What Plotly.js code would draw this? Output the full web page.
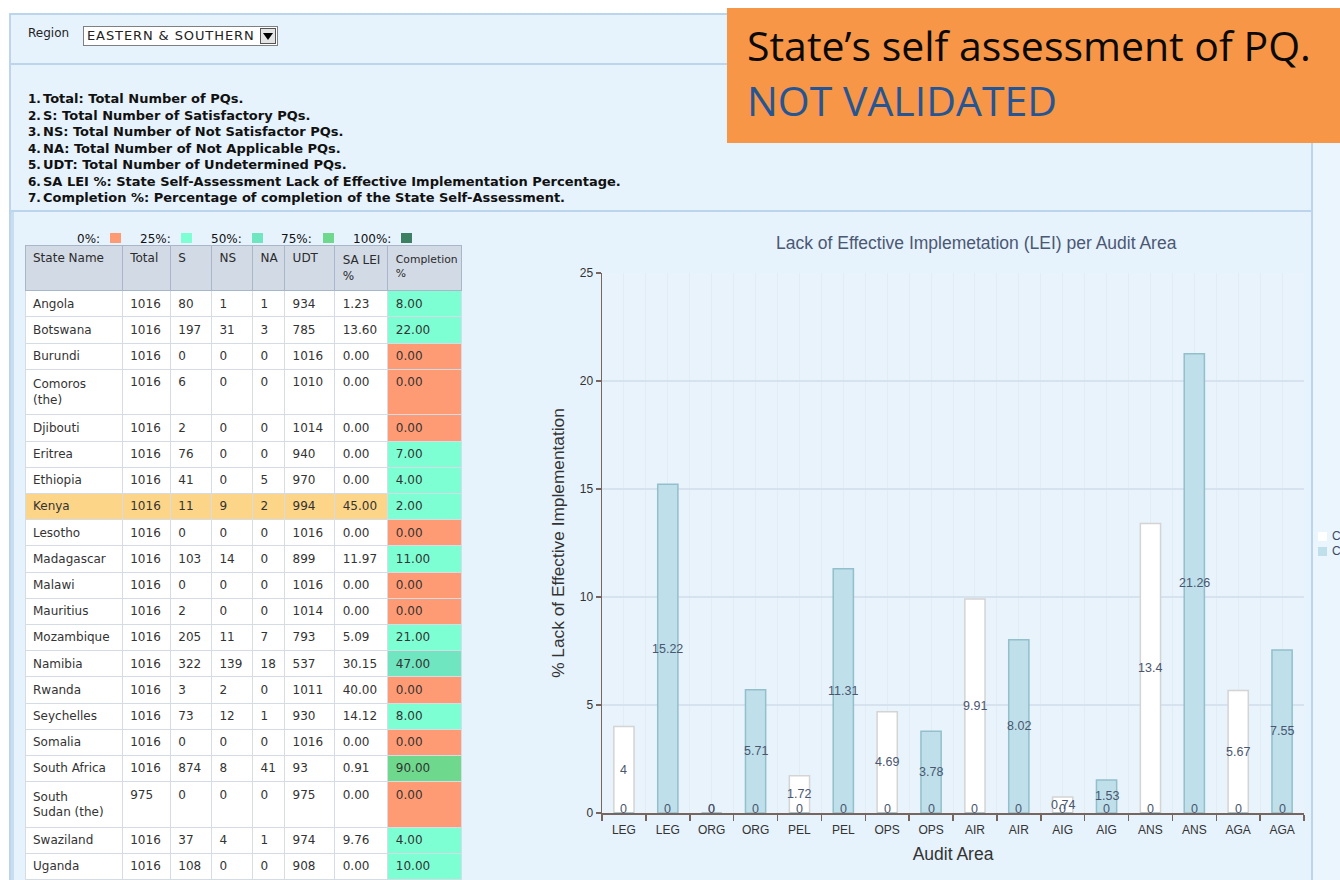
<!DOCTYPE html>
<html><head><meta charset="utf-8">
<script src="https://cdn.plot.ly/plotly-3.0.1.min.js"></script>
<style>
html,body{margin:0;padding:0;width:1340px;height:880px;overflow:hidden;background:#ffffff;font-family:"DejaVu Sans",sans-serif;color:#222;}
.abs{position:absolute;}
#bg{left:9px;top:13px;width:1331px;height:867px;background:#e6f2fc;border-left:2px solid #bcd5ec;border-top:2px solid #bcd5ec;box-sizing:border-box;}
.hl{position:absolute;height:2px;background:#bcd5ec;}
.vl{position:absolute;width:2px;background:#bcd5ec;}
#region{left:28px;top:26px;font-size:12px;}
#sel{left:83px;top:26px;width:195px;height:20px;background:#fff;border:1px solid #808080;box-sizing:border-box;font-size:13px;letter-spacing:0.9px;line-height:18px;padding-left:3px;white-space:nowrap;overflow:hidden;}
#selbtn{position:absolute;right:1px;top:1px;width:16px;height:16px;background:#e4e4e4;border:1px solid #555;box-sizing:border-box;}
#selbtn:after{content:"";position:absolute;left:2px;top:4px;border-left:5px solid transparent;border-right:5px solid transparent;border-top:7px solid #000;}
#defs{left:28px;top:91px;font-size:13px;font-weight:bold;line-height:16.5px;color:#111;white-space:nowrap;}
#defs div span{display:inline-block;width:15px;font-size:12px;}
#leg{left:0;top:232px;font-size:12px;color:#111;}
.sw{position:absolute;width:11px;height:10px;top:1px;}
#orange{left:727px;top:8px;width:613px;height:135px;background:#f79646;}
#o1{left:747px;top:17px;font-family:"Open Sans",sans-serif;font-size:41px;color:#0a0a0a;white-space:nowrap;}
#o2{left:747px;top:72px;font-family:"Open Sans",sans-serif;font-size:41px;color:#265594;white-space:nowrap;}
#rightstrip{left:1313px;top:143px;width:27px;height:737px;background:#eaf5fe;}
#tbl{left:25px;top:245px;width:437px;height:636px;}
#chart{left:540px;top:215px;width:860px;height:665px;}
#clegend{left:1318px;top:529px;font-family:"Liberation Sans",sans-serif;font-size:12px;color:#3d4a60;}
#clegend div{position:relative;height:15px;line-height:15px;padding-left:14px;white-space:nowrap;}
#clegend div i{position:absolute;left:0;top:3px;width:9px;height:9px;}
</style></head>
<body>
<div id="bg" class="abs"></div>
<div class="hl" style="left:11px;top:63px;width:1301px;"></div>
<div class="hl" style="left:11px;top:210px;width:1301px;"></div>
<div class="vl" style="left:11px;top:212px;height:668px;width:3px;background:#c8ddf1;"></div>
<div id="rightstrip" class="abs"></div>
<div class="vl" style="left:1311px;top:143px;height:737px;"></div>

<div id="region" class="abs">Region</div>
<div id="sel" class="abs">EASTERN &amp; SOUTHERN<div id="selbtn"></div></div>

<div id="defs" class="abs"></div>
<div id="leg" class="abs" style="width:470px;height:16px;"></div>

<div id="orange" class="abs"></div>
<div id="o1" class="abs">State’s self assessment of PQ.</div>
<div id="o2" class="abs">NOT VALIDATED</div>

<div id="tbl" class="abs"></div>
<div id="chart" class="abs"></div>
<div id="clegend" class="abs"></div>

<script>
// ---------- definitions text ----------
const definitions = [
  'Total: Total Number of PQs.',
  'S: Total Number of Satisfactory PQs.',
  'NS: Total Number of Not Satisfactor PQs.',
  'NA: Total Number of Not Applicable PQs.',
  'UDT: Total Number of Undetermined PQs.',
  'SA LEI %: State Self-Assessment Lack of Effective Implementation Percentage.',
  'Completion %: Percentage of completion of the State Self-Assessment.'
];

// ---------- table data ----------
const stateNames = ['Angola','Botswana','Burundi','Comoros<br>(the)','Djibouti','Eritrea','Ethiopia','Kenya','Lesotho','Madagascar','Malawi','Mauritius','Mozambique','Namibia','Rwanda','Seychelles','Somalia','South Africa','South<br>Sudan (the)','Swaziland','Uganda'];
const totalPQ   = [1016,1016,1016,1016,1016,1016,1016,1016,1016,1016,1016,1016,1016,1016,1016,1016,1016,1016,975,1016,1016];
const satisf    = [80,197,0,6,2,76,41,11,0,103,0,2,205,322,3,73,0,874,0,37,108];
const notSatisf = [1,31,0,0,0,0,0,9,0,14,0,0,11,139,2,12,0,8,0,4,0];
const notAppl   = [1,3,0,0,0,0,5,2,0,0,0,0,7,18,0,1,0,41,0,1,0];
const undet     = [934,785,1016,1010,1014,940,970,994,1016,899,1016,1014,793,537,1011,930,1016,93,975,974,908];
const saLei     = [1.23,13.60,0,0,0,0,0,45.00,0,11.97,0,0,5.09,30.15,40.00,14.12,0,0.91,0,9.76,0];
const completion= [8,22,0,0,0,7,4,2,0,11,0,0,21,47,0,8,0,90,0,4,10];
const tableHeaders = ['State Name','Total','S','NS','NA','UDT','SA LEI<br>%','Completion<br>%'];
const selectedState = 'Kenya';

// completion legend
const completionLegend = ['0%:','25%:','50%:','75%:','100%:'];

// ---------- chart data ----------
const auditAreas = ['LEG','LEG','ORG','ORG','PEL','PEL','OPS','OPS','AIR','AIR','AIG','AIG','ANS','ANS','AGA','AGA'];
const seriesA = [4,0,0,0,1.72,0,4.69,0,9.91,0,0.74,0,13.4,0,5.67,0];
const seriesB = [0,15.22,0,5.71,0,11.31,0,3.78,0,8.02,0,1.53,0,21.26,0,7.55];
const seriesNames = ['C','C'];
const chartTitle = 'Lack of Effective Implemetation (LEI) per Audit Area';
const yTitle = '% Lack of Effective Implementation';
const xTitle = 'Audit Area';

// ---------- styles ----------
const bucketColors = ['#ff9b74','#7effd3','#70e6c0','#6ed98c','#3d7f62'];
const seriesFill = ['#ffffff','#bfe0ea'];
const seriesLine = ['#d4d4d4','#92bfcb'];
const legX = [77,140,211,281,353];
const swX = [110,181,252,323,401];

const defs = document.getElementById('defs');
definitions.forEach((d,i)=>{
  const el=document.createElement('div');
  el.innerHTML='<span>'+(i+1)+'.</span>'+d.replace(/&/g,'&amp;');
  defs.appendChild(el);
});
const leg = document.getElementById('leg');
completionLegend.forEach((t,i)=>{
  const s=document.createElement('span'); s.className='abs'; s.style.left=legX[i]+'px'; s.style.top='0px'; s.textContent=t; leg.appendChild(s);
  const b=document.createElement('div'); b.className='sw'; b.style.left=swX[i]+'px'; b.style.background=bucketColors[i]; leg.appendChild(b);
});
const cleg = document.getElementById('clegend');
seriesNames.forEach((n,i)=>{
  const d=document.createElement('div');
  d.innerHTML='<i style="background:'+seriesFill[i]+'"></i>'+n;
  cleg.appendChild(d);
});

function bucket(v){ if(v===0) return bucketColors[0]; if(v<25) return bucketColors[1]; if(v<75) return bucketColors[2]; if(v<100) return bucketColors[3]; return bucketColors[4]; }

const rowFill = stateNames.map(n=> n===selectedState ? '#fcd588' : '#ffffff');
const compFill = completion.map(bucket);
const cellFill = [rowFill,rowFill,rowFill,rowFill,rowFill,rowFill,rowFill,compFill];

Plotly.newPlot('tbl',[{
  type:'table',
  columnwidth:[97,48,41,41,32,50,53,74],
  header:{values:tableHeaders, align:'left', height:37,
    fill:{color:'#d2dae6'}, line:{color:'#a9b6c9',width:1},
    font:{family:'DejaVu Sans',size:[12,12,12,12,12,12,12,10.8],color:'#2b2b2b'}},
  cells:{values:[stateNames,totalPQ,satisf,notSatisf,notAppl,undet,saLei.map(v=>v.toFixed(2)),completion.map(v=>v.toFixed(2))],
    align:'left', height:26.2,
    fill:{color:cellFill}, line:{color:'#d5dce6',width:1},
    font:{family:'DejaVu Sans',size:12,color:'#333333'}}
}],{
  margin:{l:0,r:0,t:0,b:0}, width:437, height:636,
  paper_bgcolor:'rgba(0,0,0,0)'
},{displayModeBar:false,staticPlot:true});

// ---------- chart ----------
const idx = auditAreas.map((_,i)=>i);
const labelColor = '#4a5670';
const traces = [
  {type:'bar', x:idx, y:seriesA, name:seriesNames[0], width:0.46,
   marker:{color:seriesFill[0], line:{color:seriesLine[0],width:1.5}}, hoverinfo:'skip'},
  {type:'bar', x:idx, y:seriesB, name:seriesNames[1], width:0.46,
   marker:{color:seriesFill[1], line:{color:seriesLine[1],width:1.5}}, hoverinfo:'skip'}
];
const annotations = [];
[seriesA, seriesB].forEach(s=>{
  s.forEach((v,i)=>{
    annotations.push({x:i, y:v/2, xref:'x', yref:'y', text:String(v), showarrow:false,
      yshift: v===0 ? 4 : 0, font:{family:'Liberation Sans',size:12.5,color:labelColor}});
  });
});
const layout = {
  width:860, height:665,
  margin:{l:62,r:96,t:58,b:67},
  paper_bgcolor:'rgba(0,0,0,0)', plot_bgcolor:'#e8f3fc',
  barmode:'overlay', showlegend:false,
  font:{family:'Liberation Sans',size:12,color:'#333'},
  annotations: annotations,
  title:{text:chartTitle, font:{family:'Liberation Sans',size:17.5,color:'#4b5874'}, xref:'paper', x:0.533, xanchor:'center', yref:'container', y:0.958, yanchor:'middle'},
  xaxis:{range:[-0.5,15.5], tickmode:'array', tickvals:idx, ticktext:auditAreas, ticks:'',
    showgrid:true, gridcolor:'#e2ecf5', gridwidth:1, zeroline:false,
    showline:true, linecolor:'#76665f', linewidth:1.5, ticklabelstandoff:5,
    tickfont:{family:'Liberation Sans',size:12,color:'#333'},
    minor:{tick0:-0.5, dtick:1, ticks:'outside', ticklen:6, tickcolor:'#76665f', tickwidth:1.5, showgrid:true, gridcolor:'#e2ecf5', gridwidth:1},
    title:{text:xTitle, font:{family:'Liberation Sans',size:17.5,color:'#333'}, standoff:12}},
  yaxis:{range:[0,25], dtick:5, tick0:0, ticks:'outside', ticklen:5, tickcolor:'#76665f', tickwidth:1.5,
    showgrid:true, gridcolor:'#d6e2ed', gridwidth:1.5, zeroline:false,
    showline:true, linecolor:'#76665f', linewidth:1.5,
    tickfont:{family:'Liberation Sans',size:12,color:'#333'},
    title:{text:yTitle, font:{family:'Liberation Sans',size:17.3,color:'#333'}, standoff:10}}
};
Plotly.newPlot('chart', traces, layout, {displayModeBar:false, staticPlot:true});
</script>
</body></html>
